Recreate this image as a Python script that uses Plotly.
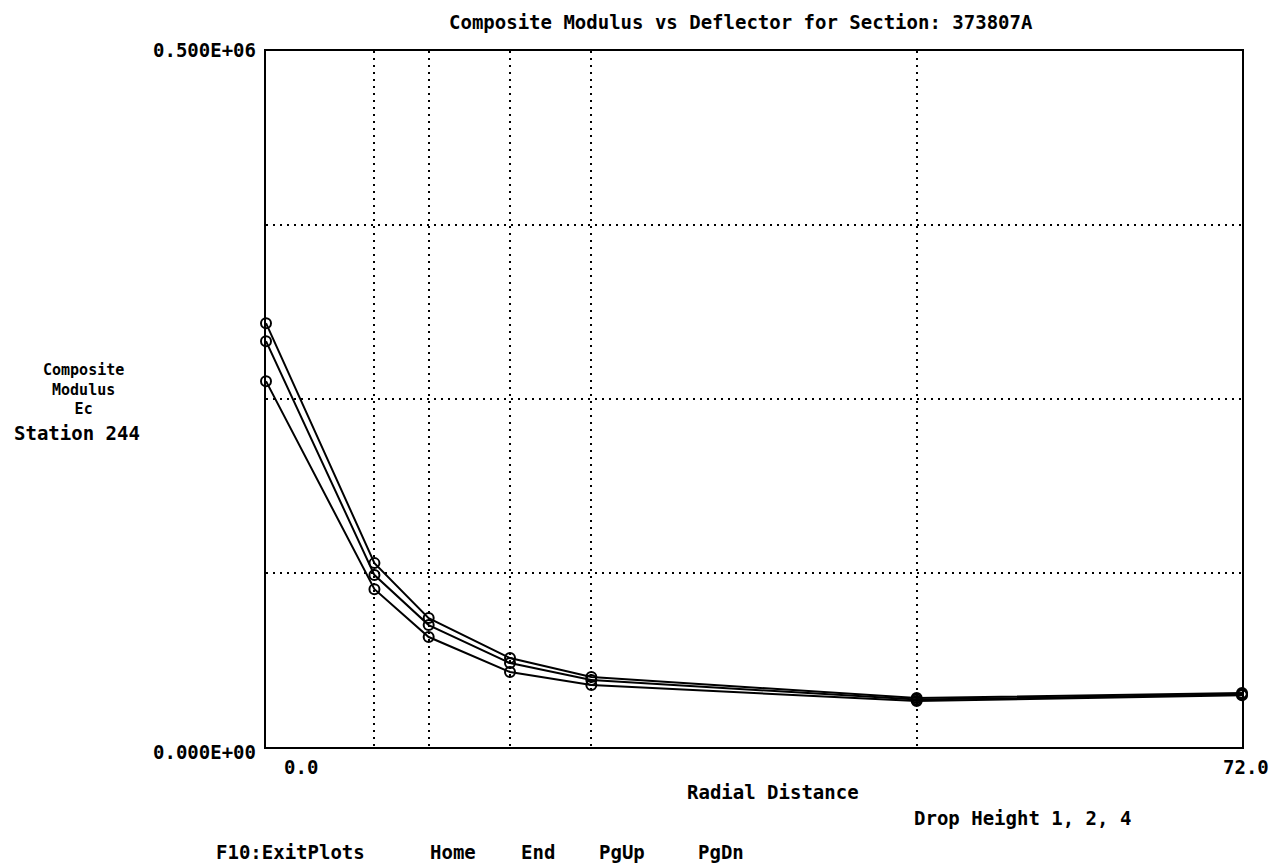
import plotly.graph_objects as go

# Data
radial_distance = [0, 8, 12, 18, 24, 48, 72]
drop_height_1 = [262800, 113400, 79000, 53900, 44500, 33000, 37200]
drop_height_2 = [291500, 123500, 87600, 60300, 48100, 34100, 37900]
drop_height_4 = [304500, 132100, 92600, 63900, 50300, 35200, 38800]
series = [("Drop Height 1", drop_height_1), ("Drop Height 2", drop_height_2), ("Drop Height 4", drop_height_4)]

y_grid = [0, 125000, 250000, 375000, 500000]
x_grid = [0, 8, 12, 18, 24, 48, 72]

title_text = "Composite Modulus vs Deflector for Section: 373807A"
y_tick_top = "0.500E+06"
y_tick_bottom = "0.000E+00"
x_tick_left = "0.0"
x_tick_right = "72.0"
y_label = "Composite<br>Modulus<br>Ec"
station_text = "Station 244"
x_label = "Radial Distance"
legend_text = "Drop Height 1, 2, 4"
footer_words = ["F10:ExitPlots", "Home", "End", "PgUp", "PgDn"]

FONT = "DejaVu Sans Mono"

fig = go.Figure()
for name, vals in series:
    fig.add_trace(go.Scatter(
        x=radial_distance, y=vals, mode="lines+markers", name=name,
        line=dict(color="black", width=2),
        marker=dict(symbol="circle-open", size=10, color="black", line=dict(width=2, color="black")),
        cliponaxis=False,
    ))

pl, pr, pt, pb = 266, 1242, 51, 747
fig.update_layout(
    width=1275, height=866,
    margin=dict(l=pl, r=1275 - pr, t=pt, b=866 - pb),
    paper_bgcolor="white", plot_bgcolor="white",
    showlegend=False,
    font=dict(family=FONT, color="black", size=15),
)
fig.update_xaxes(
    range=[0, 72], tickvals=x_grid, showticklabels=False, ticks="",
    showgrid=True, gridcolor="black", gridwidth=2, griddash="2px,5px",
    showline=True, linecolor="black", linewidth=2, mirror=True, zeroline=False,
)
fig.update_yaxes(
    range=[0, 500000], tickvals=y_grid, showticklabels=False, ticks="",
    showgrid=True, gridcolor="black", gridwidth=2, griddash="2px,5px",
    showline=True, linecolor="black", linewidth=2, mirror=True, zeroline=False,
)

def px(xp):
    return (xp - pl) / (pr - pl)
def py(yp):
    return (pb - yp) / (pb - pt)

def txt(text, x, y, xanchor="left", yanchor="middle", size=19, align="left"):
    fig.add_annotation(text="<b>" + text + "</b>", x=px(x), y=py(y), xref="paper", yref="paper",
                       xanchor=xanchor, yanchor=yanchor, showarrow=False, align=align,
                       font=dict(family=FONT, size=size, color="black"))

txt(title_text, 741, 22, "center", size=19)
txt(y_tick_top, 258, 50, "right")
txt(y_tick_bottom, 258, 752, "right")
txt(x_tick_left, 282, 767, "left")
txt(x_tick_right, 1271, 767, "right")
txt(y_label, 83, 390, "center", size=15, align="center")
txt(station_text, 12, 433, "left")
txt(x_label, 773, 792, "center")
txt(legend_text, 1022, 818, "center")
for word, xc in zip(footer_words, [290, 453, 538, 622, 721]):
    txt(word, xc, 852, "center")

fig.write_html("out.html")
